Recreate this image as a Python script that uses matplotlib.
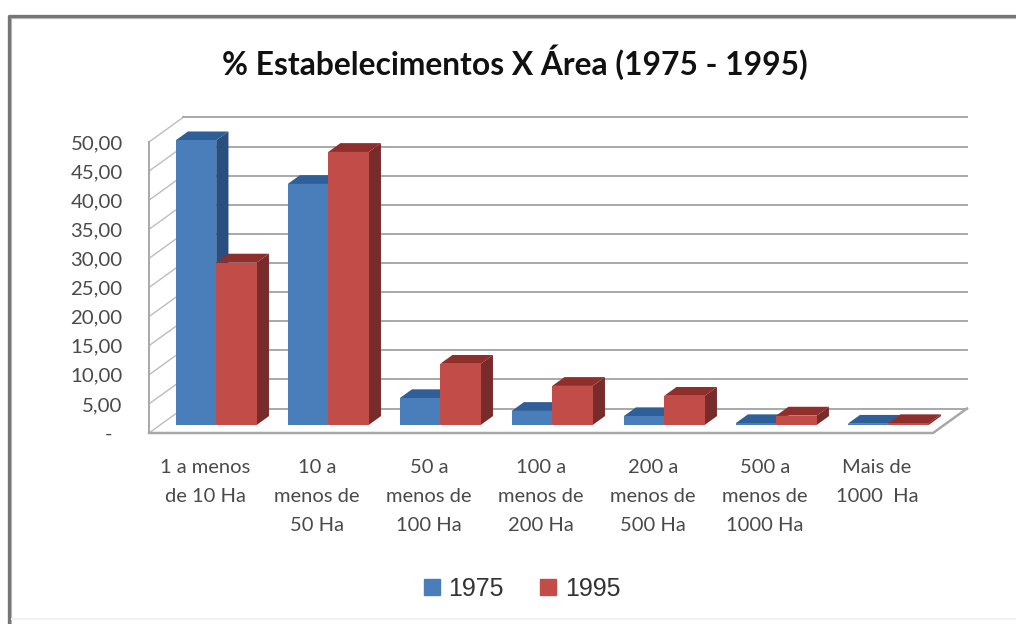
import matplotlib
matplotlib.use("Agg")
import matplotlib.pyplot as plt
from matplotlib.lines import Line2D
from matplotlib.patches import Patch, Polygon

# Dados
categorias = ["1 a menos\nde 10 Ha", "10 a\nmenos de\n50 Ha", "50 a\nmenos de\n100 Ha",
              "100 a\nmenos de\n200 Ha", "200 a\nmenos de\n500 Ha", "500 a\nmenos de\n1000 Ha",
              "Mais de\n1000  Ha"]
v1975 = [48.9, 41.4, 4.6, 2.4, 1.5, 0.3, 0.2]
v1995 = [27.9, 46.9, 10.5, 6.7, 5.0, 1.6, 0.3]
ticks_y = [0, 5, 10, 15, 20, 25, 30, 35, 40, 45, 50]
ticks_y_txt = ["-  ", "5,00", "10,00", "15,00", "20,00", "25,00", "30,00", "35,00", "40,00", "45,00", "50,00"]

W, H = 1016, 624
fig = plt.figure(figsize=(W / 100, H / 100), dpi=100)
# eixo = plano da frente do piso
ax = fig.add_axes([149 / W, 1 - 433 / H, 784 / W, 291 / H])
ax.set_xlim(0, 7)
ax.set_ylim(0, 50)
ax.patch.set_visible(False)
for s in ax.spines.values():
    s.set_visible(False)

# profundidade do "3D" em unidades dos dados
prof_x = 34 / 112
prof_y = 24.5 / 5.82
cor_grade = "#a8a8a8"

# paredes e grade
for t in ticks_y:
    ax.plot([0, prof_x], [t, t + prof_y], color="#bdbdbd", lw=1, clip_on=False, zorder=1)
    ax.plot([prof_x, 7 + prof_x], [t + prof_y, t + prof_y], color=cor_grade, lw=1.4, clip_on=False, zorder=1)
ax.plot([0, 0], [0, 50], color=cor_grade, lw=1.4, clip_on=False, zorder=1)
ax.plot([0, 7, 7 + prof_x], [0, 0, prof_y], color=cor_grade, lw=1.8, clip_on=False, zorder=1)

# barras
larg = 40.5 / 112
folga = 15.5 / 112
p0 = 0.33
p1 = 0.69
dx = (p1 - p0) * prof_x
dy = (p1 - p0) * prof_y
base = p0 * prof_y
z = 3


def barra(x, v, frente, topo, lado):
    global z
    ax.add_patch(Polygon([(x + larg, base), (x + larg + dx, base + dy), (x + larg + dx, base + v + dy), (x + larg, base + v)],
                         fc=lado, ec="none", zorder=z, clip_on=False))
    ax.add_patch(Polygon([(x, base + v), (x + dx, base + v + dy), (x + larg + dx, base + v + dy), (x + larg, base + v)],
                         fc=topo, ec="none", zorder=z, clip_on=False))
    ax.bar(x, v, larg, bottom=base, align="edge", color=frente, zorder=z + 1, clip_on=False)
    z += 2


for i in range(len(categorias)):
    x = i + folga + p0 * prof_x
    barra(x, v1975[i], "#4a7ebb", "#2f5f98", "#2a4f7e")
    barra(x + larg, v1995[i], "#c24d48", "#8f2f2c", "#772c2a")

ax.set_xticks([i + 0.5 for i in range(len(categorias))])
ax.set_xticklabels(categorias, fontsize=14.5, family="Lato", color="#4a4a4a", linespacing=1.85, va="top")
ax.set_yticks(ticks_y)
ax.set_yticklabels(ticks_y_txt, fontsize=14.7, family="Lato", color="#4a4a4a")
ax.tick_params(axis="x", length=0, pad=19)
ax.tick_params(axis="y", length=0, pad=19)

fig.text(515 / W, 1 - 62 / H, "% Estabelecimentos X Área (1975 - 1995)", ha="center", va="center",
         fontsize=22.9, fontweight="bold", family="Lato", color="#111111")

# legenda
fig.legend(handles=[Patch(color="#4a7ebb", label="1975"), Patch(color="#c24d48", label="1995")],
           loc="center", bbox_to_anchor=(522 / W, 1 - 589 / H), ncol=2, frameon=False,
           prop={"family": "Liberation Sans", "size": 18}, handlelength=0.64, handleheight=0.64,
           handletextpad=0.36, columnspacing=1.44, labelcolor="#333333")

# moldura da imagem
fig.add_artist(Line2D([11 / W, 11 / W, 1], [0, 1 - 18 / H, 1 - 18 / H], color="#c4c4c4", lw=1.6))
fig.add_artist(Line2D([8.5 / W, 8.5 / W, 1], [0, 1 - 15.5 / H, 1 - 15.5 / H], color="#767676", lw=2.4))
fig.add_artist(Line2D([12 / W, 1], [1 - 619 / H, 1 - 619 / H], color="#f2f2f2", lw=1.5))

fig.savefig("out.png", dpi=100)
